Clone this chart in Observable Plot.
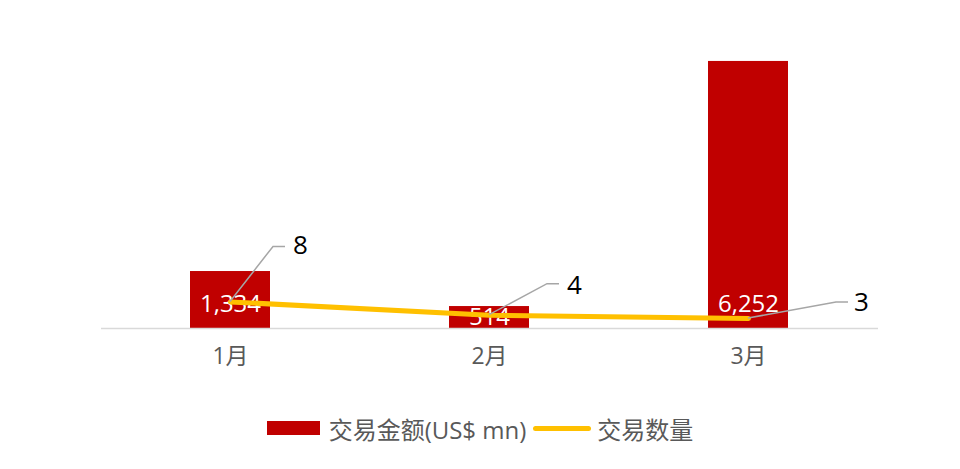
<!DOCTYPE html>
<html><head><meta charset="utf-8">
<script src="https://cdn.jsdelivr.net/npm/d3@7"></script>
<script src="https://cdn.jsdelivr.net/npm/@observablehq/plot@0.6"></script>
<style>
body{margin:0;background:#fff;font-family:"Open Sans","Noto Sans CJK SC",sans-serif;}
#chart{width:960px;height:400px;}
#legend{display:flex;justify-content:center;align-items:center;height:56px;font-size:24px;color:#595959;}
.sw-bar{width:53px;height:14px;background:#C00000;margin-right:9px;}
.sw-line{width:58px;height:5px;background:#FFC000;border-radius:3px;margin:0 6px 0 7px;}
</style></head>
<body>
<div id="chart"></div>
<div id="legend"><span class="sw-bar"></span><span>交易金额(US$ mn)</span><span class="sw-line"></span><span>交易数量</span></div>
<script>
const months = ["1月", "2月", "3月"];
const amounts = [1334, 514, 6252];
const counts = [8, 4, 3];
const amountMax = 7000;
const countMax = 90;

// label nudges for the count labels (pixels): text offset and leader elbow
const countLabelNudges = [
  {tx: 70, ty: -56, ex: 43, ey: -55},
  {tx: 85, ty: -30, ex: 58, ey: -31},
  {tx: 113, ty: -16, ex: 88, ey: -16}
];

const data = months.map((m, i) => ({month: m, amount: amounts[i], count: counts[i], i}));
const toAmount = c => c * amountMax / countMax;
const W = 960, H = 400, mT = 29, mB = 72;
const pxPerUnit = (H - mT - mB) / amountMax;

const labelMarks = data.map((d, i) => Plot.text([d], {
  x: "month", y: e => toAmount(e.count), text: e => String(e.count),
  dx: countLabelNudges[i].tx, dy: countLabelNudges[i].ty,
  fill: "#000", fontSize: 26
}));

const plot = Plot.plot({
  width: W, height: H,
  marginTop: mT, marginBottom: mB, marginLeft: 101, marginRight: 82,
  style: {fontFamily: '"Open Sans","Noto Sans CJK SC",sans-serif', color: "#595959", background: "#fff"},
  x: {domain: months, type: "band", paddingInner: 0.69, paddingOuter: 0.345, label: null},
  y: {domain: [0, amountMax], axis: null},
  marks: [
    Plot.barY(data, {x: "month", y: "amount", fill: "#C00000"}),
    Plot.ruleY([0], {stroke: "#d9d9d9", strokeWidth: 1.5}),
    Plot.axisX({tickSize: 0, tickPadding: 19, fontSize: 23, label: null}),
    Plot.text(data, {
      x: "month", y: d => Math.min(d.amount / 2, 24 / pxPerUnit),
      text: d => d3.format(",")(d.amount), fill: "#fff", fontSize: 24
    }),
    Plot.line(data, {x: "month", y: d => toAmount(d.count), stroke: "#FFC000", strokeWidth: 5, strokeLinecap: "round"}),
    ...labelMarks
  ]
});
document.getElementById("chart").appendChild(plot);

// leader lines from each count point to its label
const xs = plot.scale("x"), ys = plot.scale("y");
const svg = d3.select(plot);
const leaders = svg.append("g").attr("fill", "none").attr("stroke", "#a6a6a6").attr("stroke-width", 1.5);
data.forEach((d, i) => {
  const px = xs.apply(d.month) + xs.bandwidth / 2;
  const py = ys.apply(toAmount(d.count));
  const n = countLabelNudges[i];
  leaders.append("path").attr("d", `M${px},${py}L${px + n.ex},${py + n.ey}H${px + n.ex + 12}`);
});
</script>
</body></html>
